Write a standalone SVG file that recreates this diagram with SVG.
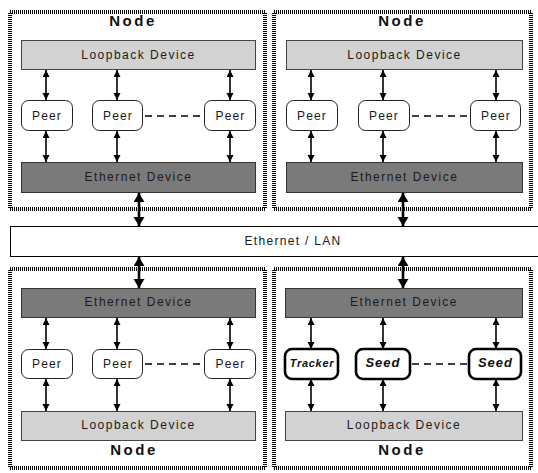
<svg xmlns="http://www.w3.org/2000/svg" width="538" height="473" viewBox="0 0 538 473">
<defs>
<marker id="ah" markerUnits="userSpaceOnUse" markerWidth="8" markerHeight="8" refX="7" refY="3.5" orient="auto-start-reverse"><path d="M0,0 L7,3.5 L0,7 z" fill="#000"/></marker>
<marker id="ahb" markerUnits="userSpaceOnUse" markerWidth="10" markerHeight="12" refX="9" refY="5.5" orient="auto-start-reverse"><path d="M0,0 L9,5.5 L0,11 z" fill="#000"/></marker>
<style>
.node{fill:#fff;stroke:#000;stroke-width:4;stroke-dasharray:1 1}
.lb{fill:#d2d2d2;stroke:#444;stroke-width:1}
.eth{fill:#7a7a7a;stroke:#333;stroke-width:1}
.peer{fill:#fff;stroke:#222;stroke-width:1}
.peerb{fill:#fff;stroke:#000;stroke-width:2.6}
.t{font-family:"Liberation Sans",Arial,sans-serif;font-size:12px;letter-spacing:1.5px;text-anchor:middle;fill:#1a1a1a}
.tp{font-family:"Liberation Sans",Arial,sans-serif;font-size:12px;letter-spacing:1.2px;text-anchor:middle;fill:#1a1a1a}
.tn{font-family:"Liberation Sans",Arial,sans-serif;font-size:15px;font-weight:bold;letter-spacing:2.5px;text-anchor:middle;fill:#111}
.ts{font-family:"Liberation Sans",Arial,sans-serif;font-size:13px;font-weight:bold;font-style:italic;letter-spacing:1px;text-anchor:middle;fill:#111}
.tt{font-family:"Liberation Sans",Arial,sans-serif;font-size:11px;font-weight:bold;font-style:italic;letter-spacing:0.7px;text-anchor:middle;fill:#111}
.a{stroke:#000;stroke-width:1.6;marker-start:url(#ah);marker-end:url(#ah)}
.ab{stroke:#000;stroke-width:2.6;marker-start:url(#ahb);marker-end:url(#ahb)}
.d{stroke:#000;stroke-width:1.6;stroke-dasharray:7 5}
</style>
</defs>
<rect width="538" height="473" fill="#fff"/>

<g id="lan">
<rect x="10.5" y="226.5" width="535" height="30" fill="#fff" stroke="#000" stroke-width="1"/>
<text class="t" x="293" y="245" style="letter-spacing:1.3px">Ethernet / LAN</text>
</g>

<g id="node-tl">
<rect class="node" x="10" y="12" width="255" height="197"/>
<text class="tn" x="133" y="26">Node</text>
<rect class="lb" x="21.5" y="40.5" width="234" height="29"/>
<text class="t" x="138.5" y="59">Loopback Device</text>
<g id="tl-peer1"><rect class="peer" x="21.5" y="100.5" width="51" height="30" rx="7"/><text class="tp" x="47" y="120">Peer</text></g>
<g id="tl-peer2"><rect class="peer" x="92.5" y="100.5" width="50" height="30" rx="7"/><text class="tp" x="118" y="120">Peer</text></g>
<g id="tl-peer3"><rect class="peer" x="204.5" y="100.5" width="51" height="30" rx="7"/><text class="tp" x="230.5" y="120">Peer</text></g>
<rect class="eth" x="21.5" y="162.5" width="234" height="30"/>
<text class="t" x="138.5" y="181">Ethernet Device</text>
</g>

<g id="node-tr">
<rect class="node" x="274" y="12" width="257" height="197"/>
<text class="tn" x="402" y="26">Node</text>
<rect class="lb" x="286.5" y="40.5" width="236" height="29"/>
<text class="t" x="404.5" y="59">Loopback Device</text>
<g id="tr-peer1"><rect class="peer" x="286.5" y="100.5" width="51" height="30" rx="7"/><text class="tp" x="312" y="120">Peer</text></g>
<g id="tr-peer2"><rect class="peer" x="358.5" y="100.5" width="51" height="30" rx="7"/><text class="tp" x="384" y="120">Peer</text></g>
<g id="tr-peer3"><rect class="peer" x="470.5" y="100.5" width="50" height="30" rx="7"/><text class="tp" x="496" y="120">Peer</text></g>
<rect class="eth" x="286.5" y="162.5" width="236" height="30"/>
<text class="t" x="404.5" y="181">Ethernet Device</text>
</g>

<g id="node-bl">
<rect class="node" x="10" y="269" width="255" height="199"/>
<rect class="eth" x="21.5" y="288.5" width="234" height="29"/>
<text class="t" x="138.5" y="306">Ethernet Device</text>
<g id="bl-peer1"><rect class="peer" x="21.5" y="349.5" width="51" height="29" rx="7"/><text class="tp" x="47" y="368">Peer</text></g>
<g id="bl-peer2"><rect class="peer" x="92.5" y="349.5" width="50" height="29" rx="7"/><text class="tp" x="118" y="368">Peer</text></g>
<g id="bl-peer3"><rect class="peer" x="204.5" y="349.5" width="51" height="29" rx="7"/><text class="tp" x="230.5" y="368">Peer</text></g>
<rect class="lb" x="21.5" y="411.5" width="234" height="29"/>
<text class="t" x="138.5" y="429">Loopback Device</text>
<text class="tn" x="134" y="455">Node</text>
</g>

<g id="node-br">
<rect class="node" x="274" y="269" width="257" height="199"/>
<rect class="eth" x="285.5" y="288.5" width="237" height="29"/>
<text class="t" x="404" y="306">Ethernet Device</text>
<g id="br-tracker"><rect class="peerb" x="285" y="349" width="53" height="30" rx="7"/><text class="tt" x="312" y="367">Tracker</text></g>
<g id="br-seed1"><rect class="peerb" x="356" y="349" width="54" height="30" rx="7"/><text class="ts" x="383" y="367">Seed</text></g>
<g id="br-seed2"><rect class="peerb" x="469" y="349" width="52" height="30" rx="7"/><text class="ts" x="495.5" y="367">Seed</text></g>
<rect class="lb" x="285.5" y="411.5" width="237" height="29"/>
<text class="t" x="404" y="429">Loopback Device</text>
<text class="tn" x="402" y="455">Node</text>
</g>

<g id="connectors">
<line class="a" x1="46" y1="70" x2="46" y2="100"/>
<line class="a" x1="117" y1="70" x2="117" y2="100"/>
<line class="a" x1="230" y1="70" x2="230" y2="100"/>
<line class="a" x1="46" y1="131" x2="46" y2="162"/>
<line class="a" x1="117" y1="131" x2="117" y2="162"/>
<line class="a" x1="230" y1="131" x2="230" y2="162"/>
<line class="d" x1="145" y1="116" x2="202" y2="116"/>

<line class="a" x1="311" y1="70" x2="311" y2="100"/>
<line class="a" x1="383" y1="70" x2="383" y2="100"/>
<line class="a" x1="496" y1="70" x2="496" y2="100"/>
<line class="a" x1="311" y1="131" x2="311" y2="162"/>
<line class="a" x1="383" y1="131" x2="383" y2="162"/>
<line class="a" x1="496" y1="131" x2="496" y2="162"/>
<line class="d" x1="412" y1="116" x2="468" y2="116"/>

<line class="a" x1="46" y1="318" x2="46" y2="349"/>
<line class="a" x1="117" y1="318" x2="117" y2="349"/>
<line class="a" x1="230" y1="318" x2="230" y2="349"/>
<line class="a" x1="46" y1="379" x2="46" y2="411"/>
<line class="a" x1="117" y1="379" x2="117" y2="411"/>
<line class="a" x1="230" y1="379" x2="230" y2="411"/>
<line class="d" x1="145" y1="364" x2="202" y2="364"/>

<line class="a" x1="311" y1="318" x2="311" y2="349"/>
<line class="a" x1="383" y1="318" x2="383" y2="349"/>
<line class="a" x1="496" y1="318" x2="496" y2="349"/>
<line class="a" x1="311" y1="379" x2="311" y2="411"/>
<line class="a" x1="383" y1="379" x2="383" y2="411"/>
<line class="a" x1="496" y1="379" x2="496" y2="411"/>
<line class="d" x1="412" y1="364" x2="467" y2="364"/>

<line class="ab" x1="139" y1="193" x2="139" y2="226"/>
<line class="ab" x1="403" y1="193" x2="403" y2="226"/>
<line class="ab" x1="139" y1="257" x2="139" y2="288"/>
<line class="ab" x1="403" y1="257" x2="403" y2="288"/>
</g>
</svg>
